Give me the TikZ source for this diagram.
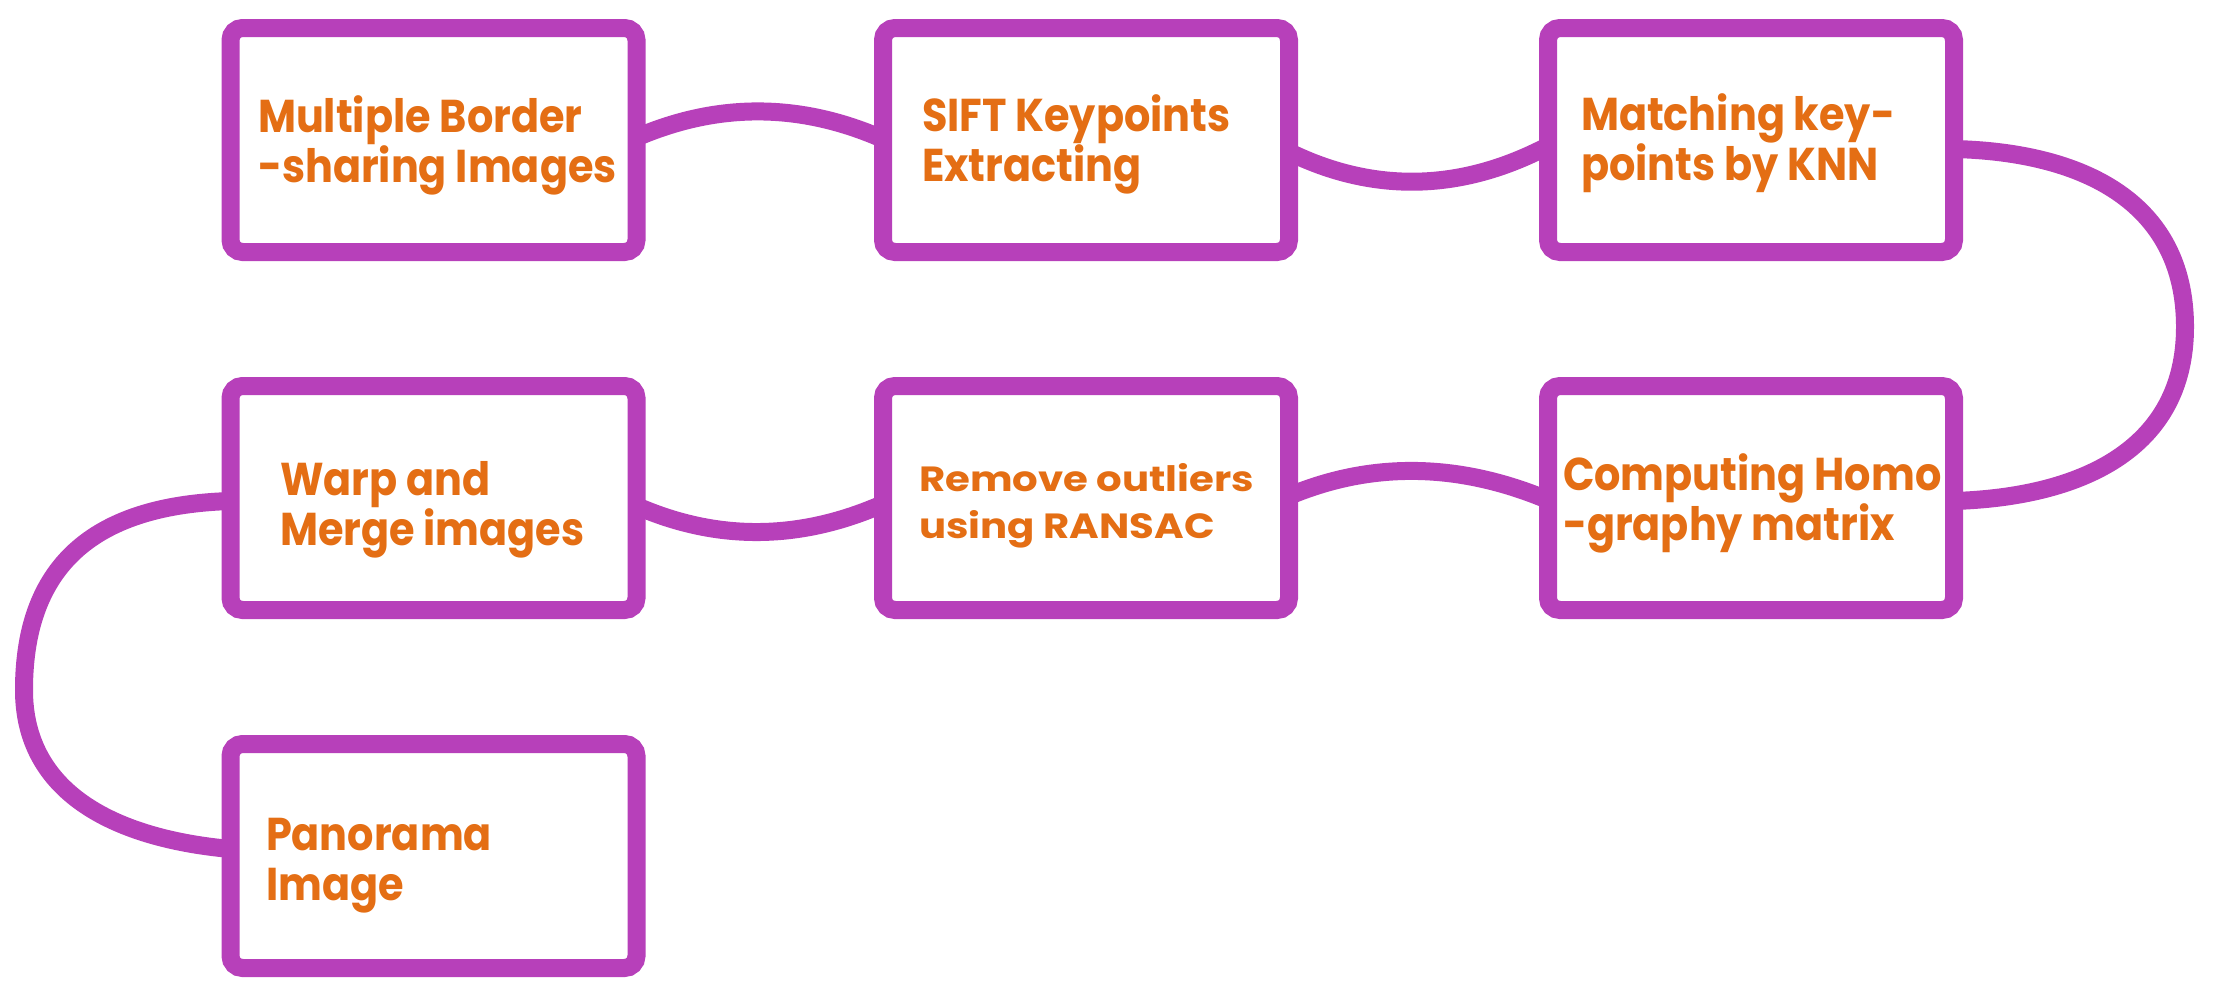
\documentclass[tikz,border=0pt]{standalone}
\usepackage{fontspec}
\setmainfont{Poppins}[FakeStretch=0.9]
\newfontfamily\widefont{Poppins}[FakeStretch=1.15]
\usetikzlibrary{backgrounds}
\definecolor{boxpurple}{RGB}{183,64,186}
\definecolor{txtorange}{RGB}{228,110,20}
\begin{document}
\begin{tikzpicture}[x=1pt,y=-1pt,
  stepbox/.style={draw=boxpurple, line width=18pt, fill=white, rounded corners=12pt,
    minimum width=406pt, minimum height=224pt, outer sep=0pt, inner sep=0pt},
  steptext/.style={text=txtorange, font=\bfseries\fontsize{46}{50}\selectfont,
    align=left, anchor=base west, inner sep=0pt, outer sep=0pt},
  smalltext/.style={steptext, font=\widefont\bfseries\fontsize{35}{47}\selectfont},
  link/.style={draw=boxpurple, line width=18pt}
]
\useasboundingbox (0,0) rectangle (2217,997);
% boxes
\node[stepbox] (b1) at (433.5,140) {};
\node[stepbox] (b2) at (1086,140) {};
\node[stepbox] (b3) at (1751,140) {};
\node[stepbox] (b4) at (433.5,498) {};
\node[stepbox] (b5) at (1086,498) {};
\node[stepbox] (b6) at (1751,498) {};
\node[stepbox] (b7) at (433.5,856) {};
% texts (anchored at the baseline of their last line)
\node[steptext] (t1) at (258,182) {Multiple Border\\-sharing Images};
\node[steptext] (t2) at (922,181) {SIFT Keypoints\\Extracting};
\node[steptext] (t3) at (1581,180) {Matching key-\\points by KNN};
\node[steptext] (t4) at (280,545) {Warp and\\Merge images};
\node[smalltext] (t5) at (919,538) {Remove outliers\\using RANSAC};
\node[steptext] (t6) at (1563,540) {Computing Homo\\-graphy matrix};
\node[steptext] (t7) at (266,900) {Panorama\\Image};
% connectors
\begin{scope}[on background layer]
\draw[link] ([yshift=2.5]b1.east) .. controls (719,102) and (801,103) .. ([yshift=1]b2.west);
\draw[link] ([yshift=-12]b2.east) .. controls (1375,194) and (1462,191) .. ([yshift=-6]b3.west);
\draw[link] ([yshift=-9]b3.east) .. controls (2080,152) and (2185,200) .. (2185,327)
  .. controls (2185,450) and (2080,497) .. ([yshift=-3]b6.east);
\draw[link] ([yshift=-2]b6.west) .. controls (1462,464) and (1375,460) .. ([yshift=2]b5.east);
\draw[link] ([yshift=-6]b5.west) .. controls (801,540) and (719,542) .. ([yshift=-8]b4.east);
\draw[link] ([yshift=-3]b4.west) .. controls (100,505) and (24,560) .. (24,690)
  .. controls (24,790) and (110,838) .. ([yshift=7]b7.west);
\end{scope}
\end{tikzpicture}
\end{document}
